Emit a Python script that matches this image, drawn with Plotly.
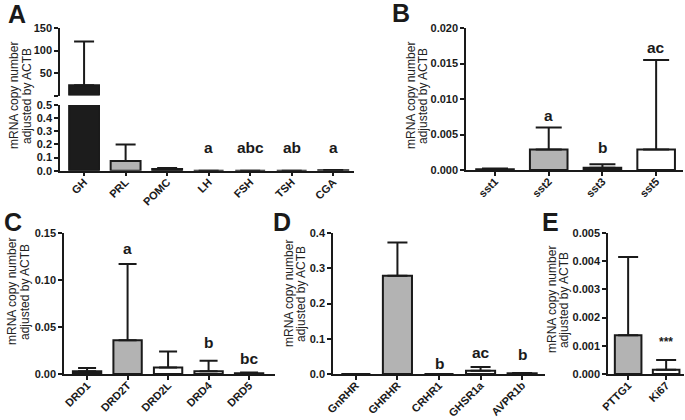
import plotly.graph_objects as go

W, H = 685, 420

# ---------------- data ----------------
a_genes = ["GH", "PRL", "POMC", "LH", "FSH", "TSH", "CGA"]
a_mean = [23.0, 0.074, 0.012, 0.0, 0.0, 0.0, 0.003]
a_err = [120.0, 0.20, 0.02, 0.0, 0.0, 0.0, 0.005]
a_fill = ["#1c1c1c", "#b3b3b3", "#1c1c1c", "#ffffff", "#ffffff", "#ffffff", "#ffffff"]
a_letters = ["", "", "", "a", "abc", "ab", "a"]
a_letter_y = [None, None, None, 0.173, 0.173, 0.173, 0.173]

b_genes = ["sst1", "sst2", "sst3", "sst5"]
b_mean = [0.0001, 0.0029, 0.0003, 0.0029]
b_err = [0.0002, 0.0060, 0.0008, 0.0155]
b_fill = ["#ffffff", "#b3b3b3", "#1c1c1c", "#ffffff"]
b_letters = ["", "a", "b", "ac"]
b_letter_y = [None, 0.0077, 0.0032, 0.0173]

c_genes = ["DRD1", "DRD2T", "DRD2L", "DRD4", "DRD5"]
c_mean = [0.003, 0.036, 0.007, 0.003, 0.0008]
c_err = [0.0065, 0.117, 0.024, 0.014, 0.0015]
c_fill = ["#1c1c1c", "#b3b3b3", "#ffffff", "#ffffff", "#ffffff"]
c_letters = ["", "a", "", "b", "bc"]
c_letter_y = [None, 0.134, None, 0.033, 0.017]

d_genes = ["GnRHR", "GHRHR", "CRHR1", "GHSR1a", "AVPR1b"]
d_mean = [0.0, 0.279, 0.0, 0.009, 0.002]
d_err = [0.0, 0.373, 0.0, 0.02, 0.003]
d_fill = ["#ffffff", "#b3b3b3", "#ffffff", "#ffffff", "#ffffff"]
d_letters = ["", "a", "b", "ac", "b"]
d_letter_y = [None, 0.417, 0.031, 0.062, 0.054]

e_genes = ["PTTG1", "Ki67"]
e_mean = [0.00137, 0.00015]
e_err = [0.00415, 0.0005]
e_fill = ["#b3b3b3", "#ffffff"]
e_letters = ["", "***"]
e_letter_y = [None, 0.00113]

ytitle_lines = ["mRNA copy number", "adjusted by ACTB"]

# ---------------- helpers ----------------
INK = "#1a1a1a"
FONT = "Liberation Sans"


def dx(a, b):
    return [a / W, b / W]


def dy(top, bottom):
    return [1 - bottom / H, 1 - top / H]


def bar(genes, mean, err, fill, xa, ya, cap):
    ey = dict(type="data", symmetric=False,
              array=[max(e - m, 0) for m, e in zip(mean, err)],
              arrayminus=[0] * len(mean), color=INK, thickness=2, width=cap)
    return go.Bar(x=genes, y=mean, marker=dict(color=fill, line=dict(color=INK, width=2)),
                  width=0.7, error_y=ey, xaxis=xa, yaxis=ya, showlegend=False,
                  hoverinfo="x+y")


fig = go.Figure()

# Panel A: broken axis (lower 0-0.5, upper 0-150)
fig.add_trace(go.Bar(x=a_genes, y=a_mean,
                     marker=dict(color=a_fill, line=dict(color=INK, width=2)), width=0.72,
                     error_y=dict(type="data", symmetric=False,
                                  array=[0 if i == 0 else max(e - m, 0) for i, (m, e) in enumerate(zip(a_mean, a_err))],
                                  arrayminus=[0] * len(a_mean), color=INK, thickness=2, width=10),
                     xaxis="x", yaxis="y", showlegend=False))
a_up_mean = [m if i == 0 else None for i, m in enumerate(a_mean)]
fig.add_trace(go.Bar(x=a_genes, y=a_up_mean,
                     marker=dict(color=a_fill, line=dict(color=INK, width=2)), width=0.72,
                     error_y=dict(type="data", symmetric=False,
                                  array=[a_err[0] - a_mean[0]] + [0] * (len(a_mean) - 1),
                                  arrayminus=[0] * len(a_mean), color=INK, thickness=2, width=10),
                     xaxis="x", yaxis="y2", showlegend=False))

fig.add_trace(bar(b_genes, b_mean, b_err, b_fill, "x2", "y3", 13))
fig.add_trace(bar(c_genes, c_mean, c_err, c_fill, "x3", "y4", 9))
fig.add_trace(bar(d_genes, d_mean, d_err, d_fill, "x4", "y5", 10))
fig.add_trace(bar(e_genes, e_mean, e_err, e_fill, "x5", "y6", 10))

ytickfont = dict(family=FONT, size=11, color=INK, weight="bold")
xtickfont = dict(family=FONT, size=11, color=INK, weight="bold")
common_y = dict(showline=True, linecolor=INK, linewidth=1.5, ticks="outside", ticklen=4,
                tickwidth=1.5, tickcolor=INK, showgrid=False, zeroline=False, tickfont=ytickfont,
                automargin=False)
common_x = dict(showline=True, linecolor=INK, linewidth=1.5, ticks="outside", ticklen=4,
                tickwidth=1.5, tickcolor=INK, showgrid=False, zeroline=False, tickfont=xtickfont,
                tickangle=-45, type="category", automargin=False, ticklabelstandoff=-5)

layout = dict(
    width=W, height=H, margin=dict(l=0, r=0, t=0, b=0, autoexpand=False),
    paper_bgcolor="white", plot_bgcolor="white", bargap=0.3,
    font=dict(family=FONT, color=INK),
    xaxis=dict(common_x, domain=dx(60, 354), range=[-0.58, 6.5], anchor="y"),
    yaxis=dict(common_y, domain=dy(105, 170.7), range=[0, 0.5], anchor="x",
               tickvals=[0, 0.1, 0.2, 0.3, 0.4, 0.5], tickformat=".1f"),
    yaxis2=dict(common_y, domain=dy(28, 95.5), range=[0, 150], anchor="x",
                tickvals=[0, 50, 100, 150], ticktext=["", "50", "100", "150"]),
    xaxis2=dict(common_x, domain=dx(466, 683), range=[-0.54, 3.5], anchor="y3"),
    yaxis3=dict(common_y, domain=dy(28, 170), range=[0, 0.02], anchor="x2",
                tickvals=[0, 0.005, 0.01, 0.015, 0.02], tickformat=".3f"),
    xaxis3=dict(common_x, domain=dx(64, 275), range=[-0.57, 4.64], anchor="y4"),
    yaxis4=dict(common_y, domain=dy(233, 374), range=[0, 0.15], anchor="x3",
                tickvals=[0, 0.05, 0.1, 0.15], tickformat=".2f"),
    xaxis4=dict(common_x, domain=dx(333, 545), range=[-0.55, 4.55], anchor="y5"),
    yaxis5=dict(common_y, domain=dy(233, 374), range=[0, 0.4], anchor="x4",
                tickvals=[0, 0.1, 0.2, 0.3, 0.4], tickformat=".1f"),
    xaxis5=dict(common_x, domain=dx(608, 684), range=[-0.53, 1.47], anchor="y6"),
    yaxis6=dict(common_y, domain=dy(233, 374), range=[0, 0.005], anchor="x5",
                tickvals=[0, 0.001, 0.002, 0.003, 0.004, 0.005], tickformat=".3f"),
)
fig.update_layout(**layout)

ann = []
# significance letters
for genes, letters, ly, xa, ya in [
    (a_genes, a_letters, a_letter_y, "x", "y"),
    (b_genes, b_letters, b_letter_y, "x2", "y3"),
    (c_genes, c_letters, c_letter_y, "x3", "y4"),
    (d_genes, d_letters, d_letter_y, "x4", "y5"),
    (e_genes, e_letters, e_letter_y, "x5", "y6"),
]:
    for g, t, yv in zip(genes, letters, ly):
        if t:
            sz = 12 if t == "***" else 15.5
            ann.append(dict(x=g, y=yv, xref=xa, yref=ya, text=t, showarrow=False,
                            yanchor="middle", xanchor="center",
                            font=dict(family=FONT, size=sz, color=INK, weight="bold")))

# panel letters
for t, x, y in [("A", 17, 14), ("B", 401, 13), ("C", 13, 222), ("D", 282, 222), ("E", 550, 222)]:
    ann.append(dict(x=x / W, y=1 - y / H, xref="paper", yref="paper", text=t,
                    showarrow=False, xanchor="center", yanchor="middle",
                    font=dict(family=FONT, size=25, color=INK, weight="bold")))

# y-axis titles (two lines each, placed separately)
for x1, x2, y in [(14, 27, 96), (411, 423, 96), (12, 25, 292), (289, 301, 294), (552, 564, 300)]:
    for xx, line in zip([x1, x2], ytitle_lines):
        ann.append(dict(x=xx / W, y=1 - y / H, xref="paper", yref="paper", text=line,
                        textangle=-90, showarrow=False, xanchor="center", yanchor="middle",
                        font=dict(family=FONT, size=12, color="#222222")))

fig.update_layout(annotations=ann)
fig.write_html("out.html", config={"displayModeBar": False},
               post_script="document.body.style.margin='0';document.body.style.padding='0';")
